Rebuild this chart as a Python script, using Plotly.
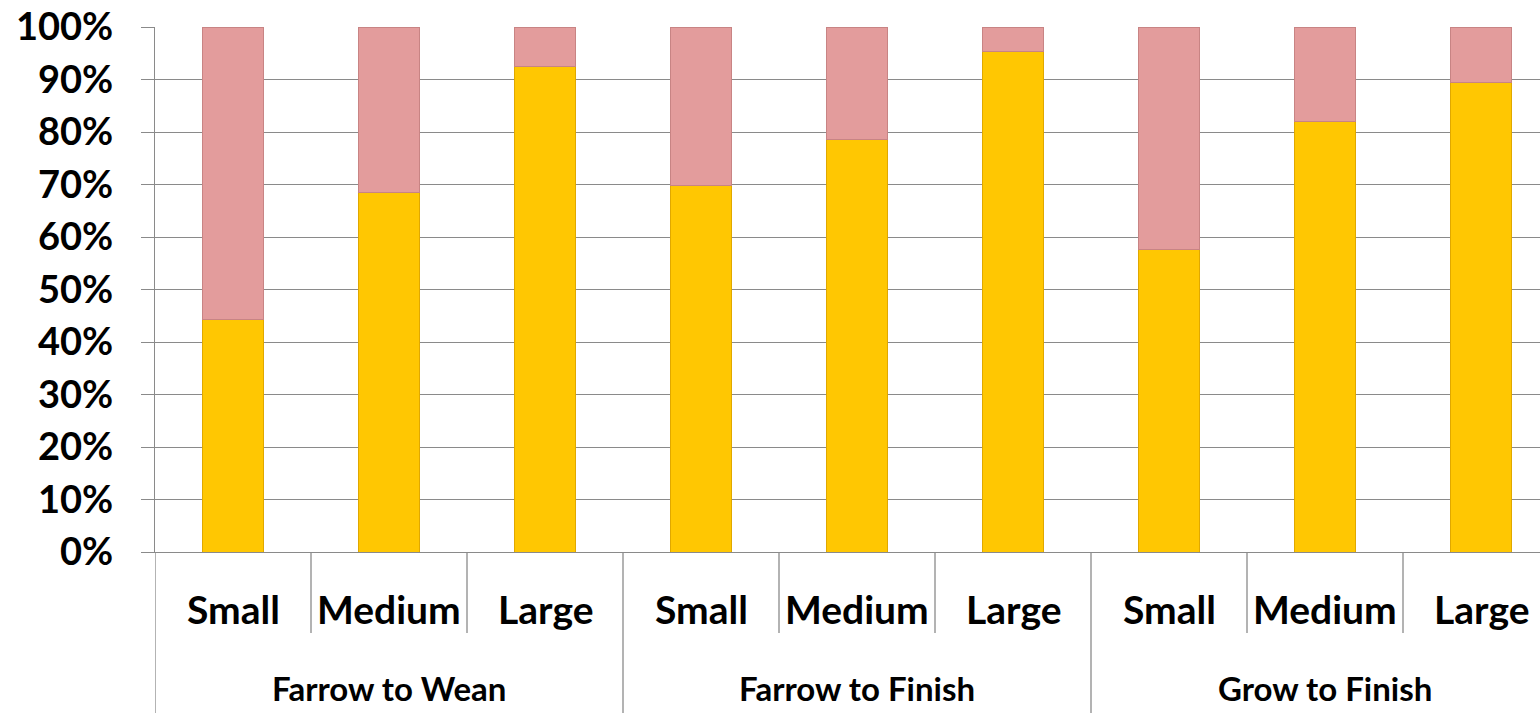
import plotly.graph_objects as go

groups = ["Farrow to Wean", "Farrow to Finish", "Grow to Finish"]
sizes = ["Small", "Medium", "Large"]
yes_share = [0.443, 0.684, 0.924, 0.699, 0.786, 0.954, 0.576, 0.820, 0.894]
no_share = [1 - v for v in yes_share]
y_ticks = [i / 10 for i in range(11)]

n = len(groups) * len(sizes)
xpos = list(range(n))

FONT = "Lato"
GRAY = "#8a8a8a"

fig = go.Figure()
fig.add_trace(go.Bar(
    x=xpos, y=yes_share, width=0.39,
    marker=dict(color="#FFC702", line=dict(color="#E0A800", width=1)),
    showlegend=False,
))
fig.add_trace(go.Bar(
    x=xpos, y=no_share, width=0.39,
    marker=dict(color="#E39C9C", line=dict(color="#C88484", width=1)),
    showlegend=False,
))

plot_h = 525
inner_label_y = (552 - 609) / plot_h
group_label_y = (552 - 688) / plot_h
inner_div_y = (552 - 633) / plot_h
group_div_y = (552 - 713) / plot_h

annotations = []
shapes = []
k = len(sizes)
for gi, g in enumerate(groups):
    for si, s in enumerate(sizes):
        annotations.append(dict(
            x=gi * k + si, y=inner_label_y, xref="x", yref="paper",
            text=s, showarrow=False, yanchor="middle", xanchor="center",
            font=dict(family=FONT, size=39, color="black", weight=700),
        ))
        if si > 0:
            xd = gi * k + si - 0.5
            shapes.append(dict(type="line", xref="x", yref="paper",
                               x0=xd, x1=xd, y0=0, y1=inner_div_y,
                               line=dict(color=GRAY, width=1.3)))
    annotations.append(dict(
        x=gi * k + (k - 1) / 2, y=group_label_y, xref="x", yref="paper",
        text=g, showarrow=False, yanchor="middle", xanchor="center",
        font=dict(family=FONT, size=33, color="black", weight=700),
    ))
    xd = gi * k - 0.5
    shapes.append(dict(type="line", xref="x", yref="paper",
                       x0=xd, x1=xd, y0=0, y1=group_div_y,
                       line=dict(color=GRAY, width=1.3)))

fig.update_layout(
    barmode="stack",
    width=1540, height=713,
    margin=dict(l=155, r=0, t=27, b=161, autoexpand=False),
    plot_bgcolor="white", paper_bgcolor="white",
    annotations=annotations, shapes=shapes,
    xaxis=dict(range=[-0.5, (1540 - 155) / 156 - 0.5], showticklabels=False,
               showgrid=False, zeroline=False, showline=True,
               linecolor=GRAY, linewidth=1.3, automargin=False),
    yaxis=dict(range=[0, 1], tickvals=y_ticks, tickformat=".0%",
               showgrid=True, gridcolor=GRAY, gridwidth=1.3,
               zeroline=False, showline=True, linecolor=GRAY, linewidth=1.3,
               ticks="outside", ticklen=13, tickcolor=GRAY, tickwidth=1.3,
               ticklabelstandoff=20, ticklabeloverflow="allow", automargin=False,
               tickfont=dict(family=FONT, size=38, color="black", weight=700)),
)

fig.write_html("out.html",
               config={"displayModeBar": False},
               post_script="document.body.style.margin='0';document.body.style.overflow='hidden';")
